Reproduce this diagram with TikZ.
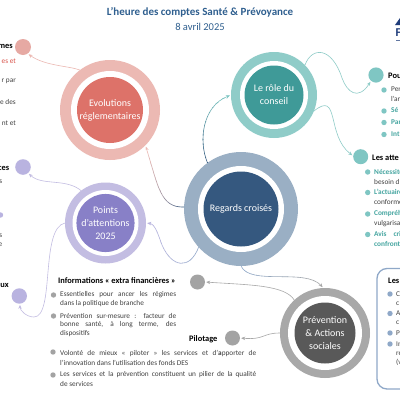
\documentclass[tikz,border=0pt]{standalone}
\usepackage{fontspec}
\setmainfont{Carlito}
\usetikzlibrary{arrows.meta}
\definecolor{rosea}{HTML}{ECB9B3}\definecolor{roseb}{HTML}{DD7269}\definecolor{rosec}{HTML}{E6A9A3}
\definecolor{teala}{HTML}{8FCCC8}\definecolor{tealb}{HTML}{3F9A98}\definecolor{tealc}{HTML}{7FC6C3}
\definecolor{lava}{HTML}{C3BDE2}\definecolor{lavb}{HTML}{8880C7}\definecolor{lavc}{HTML}{B9B3E0}
\definecolor{bluea}{HTML}{9AAFC4}\definecolor{blueb}{HTML}{35587F}\definecolor{bluec}{HTML}{8FA8C8}
\definecolor{greya}{HTML}{A8A8A8}\definecolor{greyb}{HTML}{595959}\definecolor{greyc}{HTML}{A3A3A3}
\definecolor{titleblue}{HTML}{2F5F8F}\definecolor{logoblue}{HTML}{1F3C7A}
\definecolor{bodytxt}{HTML}{404040}\definecolor{redtxt}{HTML}{D9534A}\definecolor{tealtxt}{HTML}{45A5A0}
\tikzset{
  ring/.style={circle,inner sep=0pt,outer sep=0pt,minimum size=2*#1},
  core/.style={circle,inner sep=0pt,outer sep=0pt,minimum size=2*#1,text=white,align=center,font=\fontsize{10}{13}\selectfont},
  conn/.style={line width=0.6pt,shorten >=1.2pt,-{Stealth[length=4pt,width=3.4pt]}},
  head/.style={anchor=west,inner sep=0pt,font=\fontsize{8.4}{10}\selectfont\bfseries,text=black},
  headr/.style={anchor=east,inner sep=0pt,font=\fontsize{8.4}{10}\selectfont\bfseries,text=black},
  txt/.style={anchor=west,inner sep=0pt,font=\fontsize{7.3}{9}\selectfont,text=bodytxt},
  txtr/.style={anchor=east,inner sep=0pt,font=\fontsize{7.3}{9}\selectfont,text=bodytxt},
  tealt/.style={txt,text=tealtxt,font=\fontsize{7.3}{9}\selectfont\bfseries},
  bul/.style={circle,inner sep=0pt,outer sep=0pt,minimum size=5.4pt,fill=#1},
}
% gradient connectors: the same path is drawn through thin bands
\newcommand{\gradx}[5]{\foreach \i in {0,...,15}{%
  \pgfmathsetmacro{\pc}{100*\i/15}\pgfmathsetmacro{\xa}{#1+(#2-#1)*\i/16}\pgfmathsetmacro{\xb}{#1+(#2-#1)*(\i+1.05)/16}%
  \begin{scope}\clip (\xa,-10) rectangle (\xb,410);\draw[conn,color=#4!\pc!#3] #5;\end{scope}}}
\newcommand{\grady}[5]{\foreach \i in {0,...,15}{%
  \pgfmathsetmacro{\pc}{100*\i/15}\pgfmathsetmacro{\xa}{#1+(#2-#1)*\i/16}\pgfmathsetmacro{\xb}{#1+(#2-#1)*(\i+1.05)/16}%
  \begin{scope}\clip (-10,\xa) rectangle (410,\xb);\draw[conn,color=#4!\pc!#3] #5;\end{scope}}}
\begin{document}
\begin{tikzpicture}[x=1pt,y=-1pt]
\useasboundingbox (0,0) rectangle (400,400);
\fill[white] (0,0) rectangle (400,400);
\clip (0,0) rectangle (400,400);

% title
\node[inner sep=0pt,text=titleblue,font=\fontsize{11}{13}\selectfont\bfseries] (title) at (200,12) {L’heure des comptes Santé \& Prévoyance};
\node[inner sep=0pt,text=titleblue,font=\fontsize{10.5}{13}\selectfont] (date) at (200,26.5) {8 avril 2025};

% logo
\fill[logoblue] (395,25) -- (400,18) -- (401,25) -- cycle;
\node[anchor=west,inner sep=0pt,text=logoblue,font=\fontsize{12}{12}\selectfont\bfseries] (logo) at (395.5,33) {F};
\fill[logoblue!70] (396,40) rectangle (400,40.8);

% small circles
\node[ring=8pt,fill=rosec] (p1) at (23,47) {};
\node[ring=7.8pt,fill=lavc] (l1) at (23,167) {};
\node[ring=7.7pt,fill=lavc] (l2) at (19.3,296) {};
\node[ring=7.6pt,fill=tealc] (t1) at (376,75) {};
\node[ring=7.5pt,fill=tealc] (t2) at (360.7,156.7) {};
\node[ring=7.5pt,fill=greyc] (g1) at (197.5,282) {};
\node[ring=7.5pt,fill=greyc] (g2) at (232.5,338) {};

% big circles
\node[ring=50pt,fill=rosea] (evolo) at (110,110) {};
\node[ring=39pt,fill=white] (evolw) at (110,110) {};
\node[core=33pt,fill=roseb] (evol) at (110,110) {Evolutions\\réglementaires};

\node[ring=43pt,fill=teala] (roleo) at (274,95) {};
\node[ring=34pt,fill=white] (rolew) at (274,95) {};
\node[core=29.5pt,fill=tealb] (role) at (274,95) {Le rôle du\\conseil};

\node[ring=40.5pt,fill=lava] (pointso) at (105.5,223) {};
\node[ring=33pt,fill=white] (pointsw) at (105.5,223) {};
\node[core=28.5pt,fill=lavb] (points) at (105.5,223) {Points\\d’attentions\\2025};

\node[ring=57pt,fill=bluea] (regardso) at (241,209) {};
\node[ring=43pt,fill=white] (regardsw) at (241,209) {};
\node[core=37.5pt,fill=blueb] (regards) at (241,209) {Regards croisés};

\node[ring=45pt,fill=greya] (prevo) at (325,333) {};
\node[ring=37pt,fill=white] (prevw) at (325,333) {};
\node[core=30.5pt,fill=greyb] (prev) at (325,333) {Prévention\\\&{} Actions\\sociales};

% connectors
\draw[conn,color=rosea] (evolo.127) .. controls (70,66) and (45,66) .. (p1.-55);
\draw[conn,color=lava] (pointso.127) .. controls (66,178) and (42,186) .. (l1.-50);
\draw[conn,color=lava] (pointso.180) .. controls (40,228) and (55,317) .. (34,317) .. controls (26,317) and (20,310) .. (l2.-85);
\draw[conn,color=teala] (roleo.44) .. controls (312,46) and (332,47) .. (342,78) .. controls (347,92) and (358,101) .. (t1.-130);
\draw[conn,color=teala] (roleo.-22) .. controls (340,90) and (326,135) .. (t2.175);
\draw[conn,color=greya] (prevo.133) .. controls (285,285) and (250,285) .. (g1.east);
\draw[conn,color=greya] (prevo.180) .. controls (262,333) and (265,340) .. (g2.east);
\grady{167}{94}{blueb}{tealc}{(regardso.126) .. controls (198,140) and (203,106) .. (roleo.180)}
\gradx{184}{146}{blueb}{rosea}{(regardso.178) .. controls (160,208) and (158,185) .. (evolo.-45)}
\gradx{205}{146}{bluec}{lavc}{(regardso.-138) .. controls (190,270) and (172,268) .. (162,245) .. controls (158,234) and (155,224) .. (pointso.east)}
\gradx{241}{324}{bluec}{greya}{(regardso.-90) .. controls (250,286) and (305,268) .. (prevo.92)}

% left fragments, upper
\node[headr] (h1) at (13,46.5) {mes};
\node[txtr,text=redtxt] (a1) at (16,61) {es et};
\node[txtr] (a2) at (16,81) {r par};
\node[txtr] (a3) at (16,102) {e des};
\node[txtr] (a4) at (16,123) {nt et};
% left fragments, lower
\node[headr] (h2) at (9.5,168) {ces};
\node[txtr] (b1) at (2.5,182) {s};
\node[bul=lavc] (bb) at (0.5,215) {};
\node[txtr] (b2) at (2.5,236) {s};
\node[txtr] (b3) at (2.5,245) {e};
\node[headr] (h3) at (9,285.5) {ux};

% informations
\node[head] (inf) at (58,281) {Informations « extra financières »};
\node[bul=greyc] (i1) at (53.5,295) {};
\node[txt] (i1a) at (60,294.5) {\makebox[116pt][s]{Essentielles pour ancer les régimes}};
\node[txt] (i1b) at (60,303.5) {dans la politique de branche};
\node[bul=greyc] (i2) at (53.5,316) {};
\node[txt] (i2a) at (60,315.5) {\makebox[116pt][s]{Prévention sur-mesure : facteur de}};
\node[txt] (i2b) at (60,324.5) {\makebox[116pt][s]{bonne santé, à long terme, des}};
\node[txt] (i2c) at (60,333.5) {dispositifs};
\node[bul=greyc] (i3) at (53,352) {};
\node[txt] (i3a) at (60,353.5) {\makebox[196pt][s]{Volonté de mieux « piloter » les services et d’\textbf{a}pporter de}};
\node[txt] (i3b) at (60,362.5) {l’innovation dans l’utilisation des fonds DES};
\node[bul=greyc] (i4) at (53,375) {};
\node[txt] (i4a) at (60,374.5) {\makebox[196pt][s]{Les services et la prévention constituent un pilier de la qualité}};
\node[txt] (i4b) at (60,383.5) {de services};
\node[head] (pil) at (189,339.5) {Pilotage};

% right upper
\node[head] (h4) at (388,75.5) {Pou};
\node[bul=tealc] (r1) at (384,90) {};
\node[txt] (r1a) at (391,89.5) {Per};
\node[txt] (r1b) at (391,98.5) {l’ar};
\node[bul=tealc] (r2) at (384,111) {};
\node[tealt] (r2a) at (391,110.5) {Sé};
\node[bul=tealc] (r3) at (384,122.5) {};
\node[tealt] (r3a) at (391,122) {Par};
\node[bul=tealc] (r4) at (384,134.5) {};
\node[tealt] (r4a) at (391,134) {Int};
% right middle
\node[head] (h5) at (372,157.5) {Les atte};
\node[bul=tealc] (s1) at (367.7,172) {};
\node[tealt] (s1a) at (374,171.5) {Nécessité};
\node[txt] (s1b) at (374,181.5) {besoin d};
\node[bul=tealc] (s2) at (367.7,192.5) {};
\node[tealt] (s2a) at (374,192) {L’actuaire};
\node[txt] (s2b) at (374,202) {conforme};
\node[bul=tealc] (s3) at (367.7,214) {};
\node[tealt] (s3a) at (374,213.5) {Compréhe};
\node[txt] (s3b) at (374,224) {vulgarisa};
\node[bul=tealc] (s4) at (367.7,234.5) {};
\node[tealt] (s4a) at (374,234) {Avis\hspace{7pt}cri};
\node[tealt] (s4b) at (374,243.5) {confront};
% box
\draw[bluec,line width=1.3pt,rounded corners=10pt] (377,268.5) rectangle (430,389);
\node[head] (h6) at (388,281) {Les};
\node[bul=bluec] (v1) at (390,294) {};
\node[txt] (v1a) at (396,294) {C};
\node[txt] (v1b) at (396,303.5) {c};
\node[bul=bluec] (v2) at (390,313.5) {};
\node[txt] (v2a) at (396,313.5) {A};
\node[txt] (v2b) at (396,323) {c};
\node[bul=bluec] (v3) at (390,333) {};
\node[txt] (v3a) at (396,333) {P};
\node[bul=bluec] (v4) at (390,344) {};
\node[txt] (v4a) at (396,344) {In};
\node[txt] (v4b) at (396,353.5) {re};
\node[txt] (v4c) at (396,362.5) {(v};
\end{tikzpicture}
\end{document}
